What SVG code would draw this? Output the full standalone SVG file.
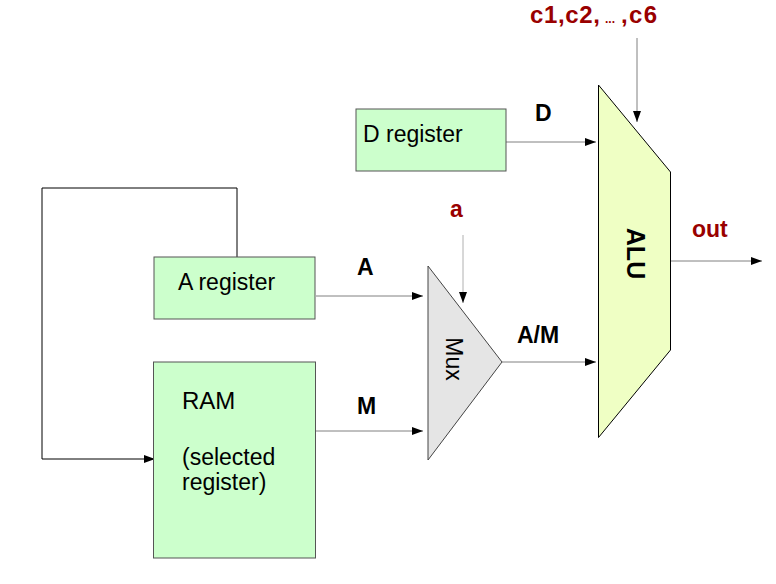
<svg xmlns="http://www.w3.org/2000/svg" width="776" height="584" viewBox="0 0 776 584">
<defs>
<marker id="arr" markerUnits="userSpaceOnUse" markerWidth="12" markerHeight="9" refX="11" refY="4" orient="auto">
<path d="M0,0 L11,4 L0,8 z" fill="#000"/>
</marker>
<style>
.box{fill:#ccffcc;stroke:#555;stroke-width:1}
.t{font-family:"Liberation Sans",Arial,sans-serif;font-size:23px;fill:#000}
.b{font-family:"Liberation Sans",Arial,sans-serif;font-size:23px;font-weight:bold;fill:#000}
.r{fill:#990000}
.c{stroke:#808080;stroke-width:1;fill:none;marker-end:url(#arr)}
</style>
</defs>
<rect width="776" height="584" fill="#fff"/>
<g id="connectors">
<path d="M237,257 V188 H42 V459 H155" fill="none" stroke="#000" stroke-width="1" marker-end="url(#arr)"/>
<line class="c" x1="506" y1="142" x2="596" y2="142"/>
<line class="c" x1="637" y1="38" x2="637" y2="122"/>
<line class="c" x1="463" y1="235" x2="463" y2="303" style="stroke:#b0b0b0"/>
<line class="c" x1="316" y1="296" x2="423" y2="296"/>
<line class="c" x1="316" y1="431" x2="423" y2="431"/>
<line class="c" x1="502" y1="362" x2="596" y2="362"/>
<line class="c" x1="671" y1="261" x2="762" y2="261"/>
<text class="b" x="535" y="121">D</text>
<text class="b" x="357" y="275">A</text>
<text class="b" x="357" y="414">M</text>
<text class="b" x="517" y="343">A/M</text>
<text class="b r" x="450" y="217">a</text>
<text class="b r" x="692" y="237">out</text>
<text class="b r" x="530" y="23" style="font-size:24px" textLength="70" lengthAdjust="spacing">c1,c2,</text>
<text class="b r" x="605" y="23" style="font-size:12px">...</text>
<text class="b r" x="621" y="23" style="font-size:24px" textLength="36" lengthAdjust="spacing">,c6</text>
</g>
<g id="dreg">
<rect class="box" x="356" y="109" width="150" height="62"/>
<text class="t" x="363" y="142">D register</text>
</g>
<g id="areg">
<rect class="box" x="154" y="257" width="161" height="62"/>
<text class="t" x="178" y="290">A register</text>
</g>
<g id="ram">
<rect class="box" x="153.5" y="362" width="162" height="196"/>
<text class="t" x="182" y="409" style="font-size:24px">RAM</text>
<text class="t" x="182" y="465">(selected</text>
<text class="t" x="182" y="490">register)</text>
</g>
<g id="mux">
<path d="M428,266 L502,362 L428,460 z" fill="#e5e5e5" stroke="#444" stroke-width="1"/>
<text class="t" transform="translate(446,359) rotate(90)" text-anchor="middle" style="font-size:23px">Mux</text>
</g>
<g id="alu">
<path d="M598.5,85 L670.5,172 V350 L598.5,437.5 z" fill="#efffc4" stroke="#000" stroke-width="1"/>
<text class="b" transform="translate(627,253.5) rotate(90)" text-anchor="middle" style="font-size:25px">ALU</text>
</g>
</svg>
